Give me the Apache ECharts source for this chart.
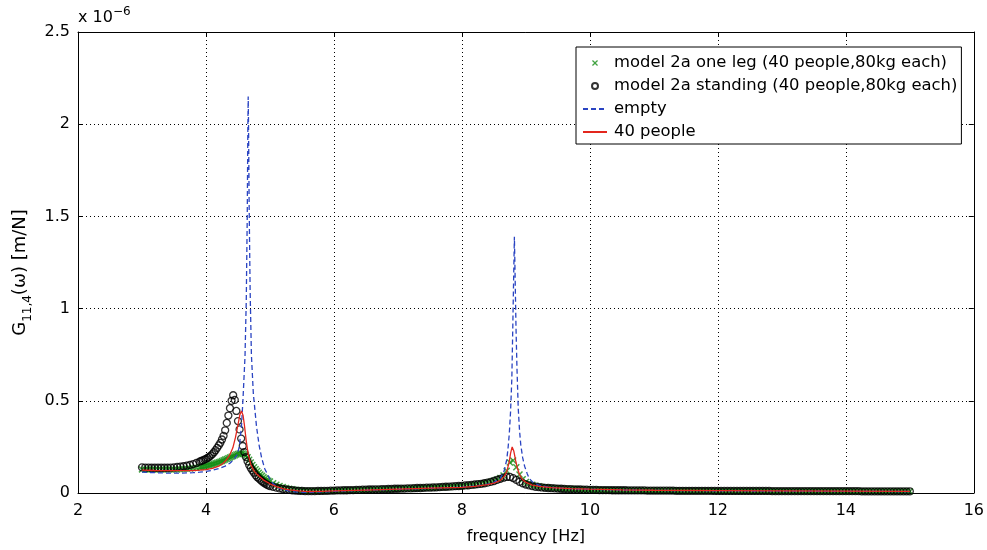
<!DOCTYPE html>
<html>
<head>
<meta charset="utf-8">
<title>G11,4 frequency response</title>
<script src="https://cdn.jsdelivr.net/npm/echarts@6/dist/echarts.min.js"></script>
<style>
  html, body { margin: 0; padding: 0; background: #fff; }
  #chart { width: 987px; height: 550px; }
</style>
</head>
<body>
<div id="chart"></div>
<script>
// Receptance |G_11,4| in units of 1e-6 m/N against frequency in Hz.

// Frequency grid shared by the two model curves (drawn with markers)
const markerFreq = [
  3.00,3.05,3.10,3.15,3.20,3.25,3.30,3.35,3.40,3.45,3.50,3.55,3.60,3.65,3.70,3.75,3.80,3.85,
  3.900,3.925,3.950,3.975,4.000,4.025,4.050,4.075,4.100,4.125,4.150,4.175,4.200,4.225,4.250,4.275,
  4.300,4.325,4.350,4.375,4.400,4.425,4.450,4.475,4.500,4.525,4.550,4.575,4.600,4.625,4.650,4.675,
  4.700,4.725,4.750,4.775,4.800,4.825,4.850,4.875,4.900,4.925,4.950,4.975,
  5.00,5.05,5.10,5.15,5.20,5.25,5.30,5.35,5.40,5.45,
  5.50,5.55,5.60,5.65,5.70,5.75,5.80,5.85,5.90,5.95,
  6.00,6.05,6.10,6.15,6.20,6.25,6.30,6.35,6.40,6.45,
  6.50,6.55,6.60,6.65,6.70,6.75,6.80,6.85,6.90,6.95,
  7.00,7.05,7.10,7.15,7.20,7.25,7.30,7.35,7.40,7.45,
  7.50,7.55,7.60,7.65,7.70,7.75,7.80,7.85,7.90,7.95,
  8.00,8.05,8.10,8.15,8.20,8.25,8.30,8.35,8.40,8.45,
  8.50,8.55,8.60,8.65,8.70,8.75,8.80,8.85,8.90,8.95,
  9.00,9.05,9.10,9.15,9.20,9.25,9.30,9.35,9.40,9.45,
  9.50,9.55,9.60,9.65,9.70,9.75,9.80,9.85,9.90,9.95,
  10.00,10.05,10.10,10.15,10.20,10.25,10.30,10.35,10.40,10.45,
  10.50,10.55,10.60,10.65,10.70,10.75,10.80,10.85,10.90,10.95,
  11.00,11.05,11.10,11.15,11.20,11.25,11.30,11.35,11.40,11.45,
  11.50,11.55,11.60,11.65,11.70,11.75,11.80,11.85,11.90,11.95,
  12.00,12.05,12.10,12.15,12.20,12.25,12.30,12.35,12.40,12.45,
  12.50,12.55,12.60,12.65,12.70,12.75,12.80,12.85,12.90,12.95,
  13.00,13.05,13.10,13.15,13.20,13.25,13.30,13.35,13.40,13.45,
  13.50,13.55,13.60,13.65,13.70,13.75,13.80,13.85,13.90,13.95,
  14.00,14.05,14.10,14.15,14.20,14.25,14.30,14.35,14.40,14.45,
  14.50,14.55,14.60,14.65,14.70,14.75,14.80,14.85,14.90,14.95,
  15.00
];

// Model 2a, one leg (40 people, 80 kg each)
const oneLegG = [
  .128,.128,.127,.127,.127,.127,.127,.127,.127,.127,.128,.128,.129,.130,.131,.133,.135,.137,
  .139,.141,.143,.145,.147,.149,.151,.153,.155,.158,.161,.164,.167,.170,.173,.177,
  .181,.185,.189,.193,.197,.201,.205,.209,.212,.214,.215,.214,.210,.203,.194,.180,
  .165,.152,.140,.129,.119,.110,.101,.093,.085,.078,.072,.067,
  .062,.053,.045,.038,.032,.027,.023,.020,.017,.015,
  .013,.012,.011,.011,.011,.011,.011,.012,.012,.013,
  .013,.013,.014,.014,.015,.015,.016,.016,.017,.017,
  .018,.018,.019,.019,.020,.020,.021,.021,.022,.022,
  .023,.023,.024,.024,.025,.025,.026,.026,.027,.028,
  .028,.029,.030,.030,.031,.032,.033,.034,.035,.036,
  .037,.038,.040,.042,.044,.047,.050,.053,.057,.061,
  .066,.073,.082,.095,.120,.165,.176,.140,.100,.075,
  .060,.051,.045,.040,.036,.033,.031,.029,.028,.026,
  .025,.024,.023,.022,.022,.021,.020,.020,.019,.019,
  .018,.018,.017,.017,.017,.016,.016,.016,.016,.015,
  .015,.015,.015,.015,.014,.014,.014,.014,.014,.014,
  .013,.013,.013,.013,.013,.013,.013,.013,.013,.012,
  .012,.012,.012,.012,.012,.012,.012,.012,.012,.012,
  .011,.011,.011,.011,.011,.011,.011,.011,.011,.011,
  .011,.011,.011,.011,.011,.011,.010,.010,.010,.010,
  .010,.010,.010,.010,.010,.010,.010,.010,.010,.010,
  .010,.010,.010,.010,.010,.010,.010,.010,.010,.010,
  .010,.010,.010,.010,.009,.009,.009,.009,.009,.009,
  .009,.009,.009,.009,.009,.009,.009,.009,.009,.009,
  .009
];

// Model 2a, standing (40 people, 80 kg each)
const standingG = [
  .139,.138,.138,.137,.137,.137,.137,.137,.137,.138,.139,.141,.143,.145,.148,.152,.157,.163,
  .170,.174,.177,.181,.185,.190,.196,.203,.211,.221,.232,.245,.258,.272,.290,.310,
  .340,.380,.420,.460,.500,.530,.505,.445,.390,.345,.295,.255,.222,.195,.172,.152,
  .135,.122,.110,.097,.087,.079,.071,.064,.057,.051,.046,.041,
  .037,.033,.029,.025,.022,.019,.017,.015,.013,.012,
  .011,.010,.010,.010,.010,.011,.011,.012,.012,.013,
  .013,.014,.014,.015,.015,.016,.016,.017,.017,.018,
  .018,.019,.019,.020,.020,.021,.021,.022,.022,.023,
  .023,.024,.024,.025,.025,.026,.027,.027,.028,.029,
  .029,.030,.031,.032,.033,.034,.035,.036,.037,.038,
  .039,.041,.042,.044,.046,.048,.050,.053,.056,.060,
  .065,.071,.077,.083,.087,.087,.081,.071,.061,.053,
  .046,.041,.037,.034,.032,.030,.028,.027,.026,.025,
  .024,.023,.022,.021,.021,.020,.019,.019,.018,.018,
  .017,.017,.017,.016,.016,.016,.016,.015,.015,.015,
  .015,.015,.014,.014,.014,.014,.014,.014,.013,.013,
  .013,.013,.013,.013,.013,.013,.013,.012,.012,.012,
  .012,.012,.012,.012,.012,.012,.012,.012,.012,.011,
  .011,.011,.011,.011,.011,.011,.011,.011,.011,.011,
  .011,.011,.011,.011,.011,.011,.011,.010,.010,.010,
  .010,.010,.010,.010,.010,.010,.010,.010,.010,.010,
  .010,.010,.010,.010,.010,.010,.010,.010,.010,.010,
  .010,.010,.010,.010,.010,.009,.009,.009,.009,.009,
  .009,.009,.009,.009,.009,.009,.009,.009,.009,.009,
  .009
];

// Empty structure
const emptyFreq = [
  3.0,3.2,3.4,3.6,3.8,3.9,4.0,4.1,4.2,4.3,4.38,4.44,4.49,4.52,4.555,4.58,4.61,4.63,4.645,4.655,
  4.66,4.665,4.675,4.69,4.71,4.74,4.79,4.83,4.87,4.92,5.0,5.05,5.15,5.25,5.36,5.5,5.67,5.85,6.0,6.5,
  7.0,7.5,8.0,8.2,8.4,8.5,8.6,8.66,8.7,8.72,8.74,8.76,8.78,8.795,8.81,8.82,8.83,8.845,8.86,8.88,
  8.9,8.92,8.95,8.98,9.02,9.05,9.1,9.2,9.35,9.6,10.0,10.5,11.0,12.0,13.0,14.0,15.0
];
const emptyG = [
  .113,.110,.108,.108,.110,.113,.117,.123,.132,.146,.163,.185,.210,.250,.360,.520,.740,1.05,1.50,2.00,
  2.15,2.00,1.55,1.10,.750,.540,.360,.260,.190,.130,.075,.050,.025,.014,.007,.004,.004,.006,.009,.015,
  .020,.025,.031,.037,.048,.058,.080,.120,.180,.240,.320,.440,.620,.900,1.20,1.39,1.20,.900,.680,.460,
  .340,.260,.190,.145,.105,.080,.060,.043,.032,.025,.020,.016,.014,.012,.010,.009,.008
];

// 40 people
const peopleFreq = [
  3.0,3.2,3.4,3.6,3.8,3.9,4.0,4.1,4.2,4.27,4.32,4.37,4.42,4.46,4.5,4.53,4.555,4.58,4.6,4.63,
  4.66,4.7,4.75,4.8,4.9,5.0,5.1,5.2,5.3,5.45,5.6,5.8,6.0,6.5,7.0,7.5,8.0,8.2,8.4,8.5,
  8.6,8.66,8.7,8.74,8.76,8.785,8.81,8.84,8.87,8.9,8.95,9.0,9.1,9.2,9.4,9.7,10.0,10.5,11.0,12.0,
  13.0,14.0,15.0
];
const peopleG = [
  .124,.122,.121,.121,.122,.124,.127,.134,.146,.161,.180,.205,.245,.300,.370,.425,.445,.420,.370,.280,
  .210,.155,.120,.100,.070,.050,.035,.024,.017,.011,.008,.009,.011,.016,.021,.026,.031,.036,.045,.053,
  .068,.090,.115,.170,.215,.250,.228,.175,.130,.100,.072,.058,.043,.036,.029,.024,.021,.017,.015,.013,
  .011,.010,.009
];

// Axis ticks
const xTicks = [2, 4, 6, 8, 10, 12, 14, 16];
const yTicks = [0, 0.5, 1, 1.5, 2, 2.5];

const seriesNames = [
  'model 2a one leg (40 people,80kg each)',
  'model 2a standing (40 people,80kg each)',
  'empty',
  '40 people'
];

const FONT = 'DejaVu Sans';
const pairs = (xs, ys) => xs.map((x, i) => [x, ys[i]]);
// small "x" marker as a filled outline
const crossPath = 'path://M1.5,0L5,3.5L8.5,0L10,1.5L6.5,5L10,8.5L8.5,10L5,6.5L1.5,10L0,8.5L3.5,5L0,1.5Z';

const chart = echarts.init(document.getElementById('chart'), null, { renderer: 'canvas' });

const dotted = { color: '#000', width: 1, type: [1, 3] };
const baseX = {
  type: 'value',
  min: xTicks[0], max: xTicks[xTicks.length - 1], interval: xTicks[1] - xTicks[0],
  axisLine: { show: true, onZero: false, lineStyle: { color: '#000', width: 1 } },
  axisTick: { show: true, inside: true, length: 5, lineStyle: { color: '#000' } }
};
const baseY = {
  type: 'value',
  min: yTicks[0], max: yTicks[yTicks.length - 1], interval: yTicks[1] - yTicks[0],
  axisLine: { show: true, onZero: false, lineStyle: { color: '#000', width: 1 } },
  axisTick: { show: true, inside: true, length: 5, lineStyle: { color: '#000' } }
};

chart.setOption({
  animation: false,
  backgroundColor: '#fff',
  grid: { left: 78, right: 12, top: 32, bottom: 57, containLabel: false },
  xAxis: [
    Object.assign({}, baseX, {
      position: 'bottom',
      axisLabel: { color: '#000', fontFamily: FONT, fontSize: 16, margin: 10 },
      splitLine: { show: true, lineStyle: dotted },
      name: 'frequency [Hz]', nameLocation: 'middle', nameGap: 36,
      nameTextStyle: { color: '#000', fontFamily: FONT, fontSize: 16 }
    }),
    Object.assign({}, baseX, {
      position: 'top',
      axisLabel: { show: false },
      splitLine: { show: false }
    })
  ],
  yAxis: [
    Object.assign({}, baseY, {
      position: 'left',
      axisLabel: { color: '#000', fontFamily: FONT, fontSize: 16, margin: 8 },
      splitLine: { show: true, lineStyle: dotted },
      name: '{g|G}{s|11,4}{g|(ω) [m/N]}', nameLocation: 'middle', nameGap: 42,
      nameTextStyle: {
        color: '#000', fontFamily: FONT, fontSize: 18,
        padding: [0, 20, 0, 0],
        rich: {
          g: { fontFamily: FONT, fontSize: 18, color: '#000', lineHeight: 26 },
          s: { fontFamily: FONT, fontSize: 12, color: '#000', lineHeight: 10, verticalAlign: 'bottom' }
        }
      }
    }),
    Object.assign({}, baseY, {
      position: 'right',
      axisLabel: { show: false },
      splitLine: { show: false }
    })
  ],
  legend: {
    orient: 'vertical',
    left: 576, top: 47,
    padding: [8, 4, 4, 6],
    itemWidth: 24, itemHeight: 6, itemGap: 7,
    selectedMode: false,
    backgroundColor: '#fff',
    borderColor: '#000', borderWidth: 1, borderRadius: 0,
    textStyle: { color: '#000', fontFamily: FONT, fontSize: 16.4, padding: [0, 0, 0, 2] },
    data: [
      { name: seriesNames[0] },
      { name: seriesNames[1] },
      { name: seriesNames[2], itemStyle: { opacity: 0 } },
      { name: seriesNames[3], itemStyle: { opacity: 0 } }
    ]
  },
  graphic: [{
    type: 'text',
    left: 78, top: 6,
    style: {
      text: '{a|x 10}{b|−6}',
      rich: {
        a: { fontFamily: FONT, fontSize: 16, fill: '#000', lineHeight: 24 },
        b: { fontFamily: FONT, fontSize: 12, fill: '#000', lineHeight: 12, verticalAlign: 'top' }
      }
    }
  }],
  series: [
    {
      name: seriesNames[0], type: 'scatter',
      data: pairs(markerFreq, oneLegG),
      symbol: crossPath, symbolSize: 7,
      itemStyle: { color: '#138c13' }
    },
    {
      name: seriesNames[1], type: 'scatter',
      data: pairs(markerFreq, standingG),
      symbol: 'circle', symbolSize: 7,
      itemStyle: { color: 'rgba(255,255,255,0)', borderColor: '#000', borderWidth: 1.3 }
    },
    {
      name: seriesNames[2], type: 'line',
      data: pairs(emptyFreq, emptyG),
      symbol: 'none', showSymbol: false,
      itemStyle: { color: '#2a44c2' },
      lineStyle: { color: '#2a44c2', width: 1.3, type: [5, 3] }
    },
    {
      name: seriesNames[3], type: 'line',
      data: pairs(peopleFreq, peopleG),
      symbol: 'none', showSymbol: false,
      itemStyle: { color: '#e3261d' },
      lineStyle: { color: '#e3261d', width: 1.3 }
    }
  ]
});
</script>
</body>
</html>
